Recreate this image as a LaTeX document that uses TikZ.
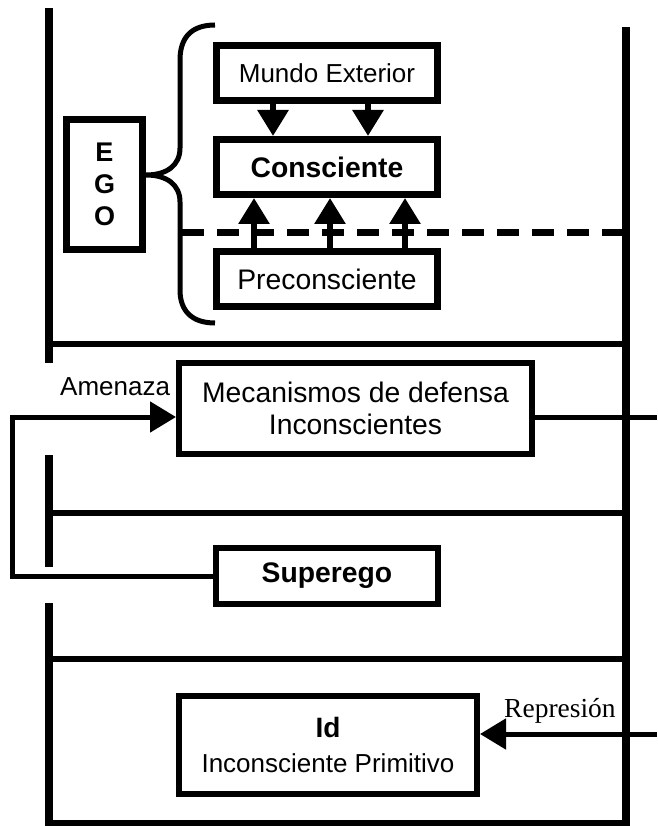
\documentclass[tikz,border=0pt]{standalone}
\usepackage{fontspec}
\setmainfont{Liberation Sans}
\newfontfamily\serifrm{Liberation Serif}
\usetikzlibrary{arrows.meta}
\begin{document}
\begin{tikzpicture}[x=1pt,y=-1pt,
  box/.style={draw, line width=7pt, inner sep=0pt, align=center, font=\fontsize{26}{32}\selectfont},
  thinbox/.style={box, line width=6pt},
  big/.style={font=\fontsize{28.3}{33}\selectfont},
  wall/.style={line width=7.5pt},
  floorline/.style={line width=6pt},
  arr/.style={line width=6pt, -{Triangle[width=30pt,length=26pt]}},
  conn/.style={line width=5pt},
  lbl/.style={font=\fontsize{26}{30}\selectfont, inner sep=0pt, anchor=base west}
]
\useasboundingbox (0,0) rectangle (657,826);

% floors
\draw[floorline] (49,343.5) -- (626,343.5);
\draw[floorline] (49,513) -- (626,513);
\draw[floorline] (49,659) -- (626,659);
\draw[floorline] (49,822.5) -- (626,822.5);
% walls
\draw[wall] (49,8) -- (49,363);
\draw[wall] (49,455) -- (49,567);
\draw[wall] (49,603) -- (49,826);
\draw[wall] (626,27) -- (626,826);

% boxes
\node[box, minimum width=221pt, minimum height=55pt] (mundo) at (327,73) {Mundo Exterior};
\node[box, big, minimum width=221pt, minimum height=55pt] (consc) at (327,167) {\textbf{Consciente}};
\node[box, big, minimum width=221pt, minimum height=55pt] (precon) at (327,279) {Preconsciente};
\node[box, font=\fontsize{27}{32}\selectfont, minimum width=76pt, minimum height=130pt] (ego) at (104.5,184.5) {\textbf{E}\\\textbf{G}\\\textbf{O}};
\node[thinbox, big, font=\fontsize{28.3}{32}\selectfont, minimum width=353pt, minimum height=91pt] (meca) at (355.5,408.5) {Mecanismos de defensa\\Inconscientes};
\node[thinbox, big, minimum width=222pt, minimum height=56pt] (super) at (327,576) {\textbf{Superego}};
\node[thinbox, minimum width=298pt, minimum height=98pt, font=\fontsize{26}{35}\selectfont] (id) at (328,745) {{\fontsize{28}{35}\selectfont\textbf{Id}}\\Inconsciente Primitivo};

% brace
\coordinate (tip) at (146,175);
\draw[line width=5pt] (215,25) .. controls (192,25) and (180,37) .. (180,60) -- (180,148)
  .. controls (180,166) and (166,175) .. (tip)
  .. controls (166,175) and (180,184) .. (180,202) -- (180,290)
  .. controls (180,311) and (192,323) .. (215,323);

% dashed line
\coordinate (dl) at (182,232);
\coordinate (dr) at (622,232);
\draw[line width=7pt, dash pattern=on 22pt off 13pt] (dl) -- (dr);

% arrows between boxes
\draw[arr] ([xshift=-54pt]mundo.south) -- ([xshift=-54pt]consc.north);
\draw[arr] ([xshift=41pt]mundo.south) -- ([xshift=41pt]consc.north);
\draw[arr] ([xshift=-73pt]precon.north) -- ([xshift=-73pt]consc.south);
\draw[arr] ([xshift=3pt]precon.north) -- ([xshift=3pt]consc.south);
\draw[arr] ([xshift=78pt]precon.north) -- ([xshift=78pt]consc.south);

% line from mecanismos to the right
\coordinate (rm) at (657,417);
\draw[conn] (meca.east |- rm) -- (rm);

% amenaza
\coordinate (ac) at (12,417);
\draw[arr, line width=5pt] (super.west) -| (ac) -- (meca.west |- ac);
\node[lbl] (amen) at (60,395) {Amenaza};

% represion
\coordinate (rr) at (657,734);
\draw[arr, line width=5pt] (rr) -- (id.east |- rr);
\node[lbl, font=\serifrm\fontsize{27.5}{32}\selectfont] (rep) at (504,717) {Represión};
\end{tikzpicture}
\end{document}
